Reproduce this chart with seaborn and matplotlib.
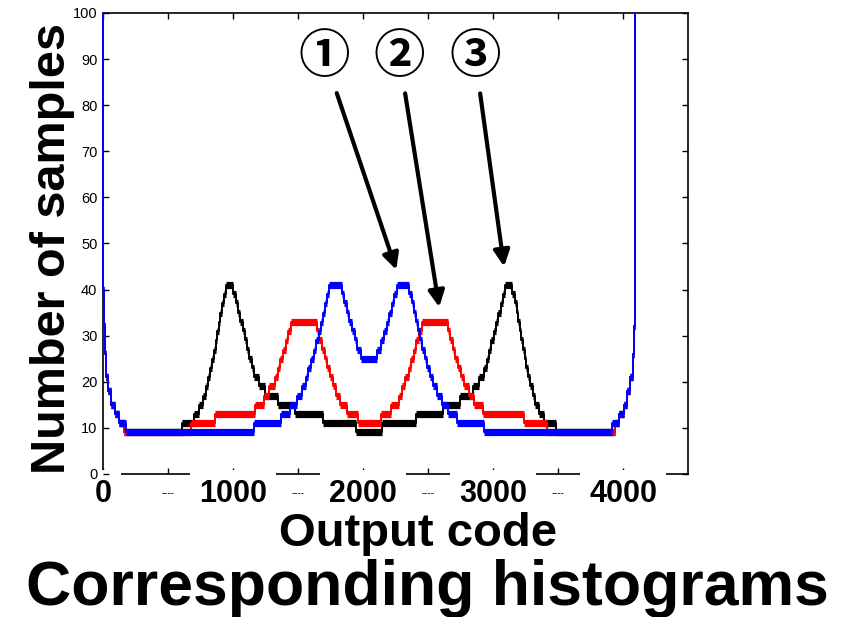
import matplotlib
matplotlib.use("Agg")
import matplotlib.pyplot as plt
import seaborn as sns
import numpy as np

# Histogram levels: each count holds from its code up to the next code (steps-post).
# The end codes are off scale; they are held at the top of the axis (100).
black_codes = [0, 1, 6, 12, 22, 40, 65, 90, 125, 160,
               610, 700, 740, 770, 790, 808, 825, 840, 853, 866, 880, 892, 903, 915, 930, 950,
               1000, 1020, 1038, 1055, 1075, 1092, 1110, 1125, 1145, 1165, 1200, 1250, 1350, 1480, 1690, 1950,
               2146, 2406, 2616, 2746, 2846, 2896, 2931, 2951, 2971, 2986, 3004, 3021, 3041, 3058, 3076, 3096,
               3146, 3166, 3181, 3193, 3204, 3216, 3230, 3243, 3256, 3271, 3288, 3306, 3326, 3356, 3396, 3486,
               3936, 3971, 4006, 4031, 4056, 4074, 4084, 4090, 4095]
black_counts = [100, 40, 32, 26, 21, 18, 15, 13, 11, 9,
                11, 13, 15, 17, 19, 21, 23, 25, 27, 29, 31, 33, 35, 37, 39, 41,
                39, 37, 35, 33, 31, 29, 27, 25, 23, 21, 19, 17, 15, 13, 11, 9,
                11, 13, 15, 17, 19, 21, 23, 25, 27, 29, 31, 33, 35, 37, 39, 41,
                39, 37, 35, 33, 31, 29, 27, 25, 23, 21, 19, 17, 15, 13, 11, 9,
                11, 13, 15, 18, 21, 26, 32, 40, 100]

red_codes = [0, 1, 6, 12, 22, 40, 65, 90, 125, 160,
             680, 860, 1170, 1240, 1280, 1320, 1345, 1365, 1385, 1405, 1425, 1445,
             1645, 1665, 1685, 1705, 1725, 1745, 1770, 1795, 1820, 1880, 1960,
             2136, 2216, 2276, 2301, 2326, 2351, 2371, 2391, 2411, 2431, 2451,
             2651, 2671, 2691, 2711, 2731, 2751, 2776, 2816, 2856, 2926, 3236, 3416,
             3936, 3971, 4006, 4031, 4056, 4074, 4084, 4090, 4095]
red_counts = [100, 40, 32, 26, 21, 18, 15, 13, 11, 9,
              11, 13, 15, 17, 19, 21, 23, 25, 27, 29, 31, 33,
              31, 29, 27, 25, 23, 21, 19, 17, 15, 13, 11,
              13, 15, 17, 19, 21, 23, 25, 27, 29, 31, 33,
              31, 29, 27, 25, 23, 21, 19, 17, 15, 13, 11, 9,
              11, 13, 15, 18, 21, 26, 32, 40, 100]

blue_codes = [0, 1, 6, 12, 22, 40, 65, 90, 125, 180,
              1165, 1370, 1440, 1490, 1530, 1560, 1580, 1600, 1620, 1640, 1660, 1675, 1690, 1705, 1720, 1740,
              1835, 1855, 1875, 1895, 1915, 1935, 1955, 1985,
              2111, 2141, 2161, 2181, 2201, 2221, 2241, 2261,
              2356, 2376, 2391, 2406, 2421, 2436, 2456, 2476, 2496, 2516, 2536, 2566, 2606, 2656, 2726, 2931,
              3916, 3971, 4006, 4031, 4056, 4074, 4084, 4090, 4095]
blue_counts = [100, 40, 32, 26, 21, 18, 15, 13, 11, 9,
               11, 13, 15, 17, 19, 21, 23, 25, 27, 29, 31, 33, 35, 37, 39, 41,
               39, 37, 35, 33, 31, 29, 27, 25,
               27, 29, 31, 33, 35, 37, 39, 41,
               39, 37, 35, 33, 31, 29, 27, 25, 23, 21, 19, 17, 15, 13, 11, 9,
               11, 13, 15, 18, 21, 26, 32, 40, 100]

xticks_major = [0, 1000, 2000, 3000, 4000]
xticks_minor = [500, 1500, 2500, 3500]
yticks = [0, 10, 20, 30, 40, 50, 60, 70, 80, 90, 100]

marks = ["①", "②", "③"]
mark_text = [(1704, 90.5), (2279, 90.5), (2862, 90.5)]
mark_tip = [(2256, 44.3), (2586, 36.2), (3085, 45.0)]


def draw_hist(ax, codes, counts, color):
    """Stair line plus thick plateaus, like the dense histogram bins."""
    codes = np.array(codes)
    counts = np.array(counts)
    sns.lineplot(x=codes, y=counts, color=color, lw=1.4, drawstyle="steps-post",
                 estimator=None, sort=False, ax=ax, zorder=4, clip_on=False)
    ax.hlines(counts[:-2], codes[:-2], codes[1:-1], colors=color, lw=5.2, zorder=4)


sns.set_style("ticks")
plt.rcParams["font.family"] = ["Liberation Sans", "DejaVu Sans"]
plt.rcParams["text.color"] = "black"
plt.rcParams["axes.labelcolor"] = "black"
plt.rcParams["xtick.color"] = "black"
plt.rcParams["ytick.color"] = "black"

fig = plt.figure(figsize=(8.51, 6.17), dpi=100)
ax = fig.add_axes([0.121, 0.2318, 0.6875, 0.7472])

draw_hist(ax, black_codes, black_counts, "#000000")
draw_hist(ax, red_codes, red_counts, "#ff0000")
draw_hist(ax, blue_codes, blue_counts, "#0000ff")

ax.set_xlim(0, 4500)
ax.set_ylim(0, 100)
ax.set_xticks(xticks_major, labels=[str(t) for t in xticks_major])
ax.set_xticks(xticks_minor, labels=["----"] * len(xticks_minor), minor=True)
ax.set_yticks(yticks, labels=[str(t) for t in yticks])
ax.tick_params(which="both", direction="in", top=True, right=True, length=4,
               width=1, color="black")
ax.tick_params(axis="y", labelsize=10.5, pad=4)
ax.tick_params(axis="x", which="major", labelsize=22, pad=3.5)
ax.tick_params(axis="x", which="minor", labelsize=7, pad=10)
for lab in ax.get_xticklabels():
    lab.set_fontweight("bold")
    lab.set_bbox(dict(boxstyle="square,pad=0.3", fc="white", ec="none"))
ax.xaxis.set_zorder(3)
ax.yaxis.set_zorder(3.5)
for sp in ax.spines.values():
    sp.set_linewidth(1.2)
    sp.set_color("black")
    sp.set_zorder(2)

ax.set_xlabel("")
ax.set_ylabel("Number of samples", fontsize=35, fontweight="bold")
ax.yaxis.set_label_coords(-0.048, 0.49)

for m, txy, tip in zip(marks, mark_text, mark_tip):
    ax.annotate(m, xy=tip, xytext=txy, ha="center", va="center", fontsize=37,
                fontweight="bold", family=["Noto Sans CJK JP", "DejaVu Sans"],
                arrowprops=dict(arrowstyle="-|>", lw=3, color="black",
                                mutation_scale=24, shrinkA=5, shrinkB=0))

fig.text(0.491, 0.115, "Output code", ha="center", va="baseline",
         fontsize=34, fontweight="bold")
fig.text(0.502, 0.0194, "Corresponding histograms", ha="center", va="baseline",
         fontsize=45, fontweight="bold")

fig.savefig("out.png", dpi=100)
